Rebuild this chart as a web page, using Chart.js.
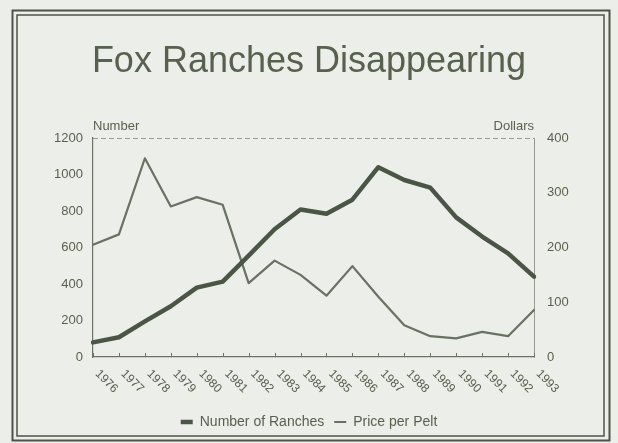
<!DOCTYPE html>
<html>
<head>
<meta charset="utf-8">
<script src="https://cdn.jsdelivr.net/npm/chart.js@4"></script>
<style>
  html, body { margin: 0; padding: 0; background: #eceee9; }
  #c { display: block; }
</style>
</head>
<body>
<canvas id="c" width="618" height="443"></canvas>
<script>
// ---- Data ----
const years = ['1976','1977','1978','1979','1980','1981','1982','1983','1984','1985','1986','1987','1988','1989','1990','1991','1992','1993'];
const ranches = [80, 108, 195, 278, 380, 413, 555, 700, 808, 785, 862, 1040, 970, 928, 765, 660, 568, 440];
const pricePerPelt = [205, 224, 363, 275, 292, 278, 135, 176, 150, 112, 166, 110, 58, 38, 34, 46, 38, 86];
const seriesNames = ['Number of Ranches', 'Price per Pelt'];
const titleText = 'Fox Ranches Disappearing';
const leftAxisTitle = 'Number';
const rightAxisTitle = 'Dollars';

// ---- Styles ----
const FONT = '"Liberation Sans", Arial, Helvetica, sans-serif';
const TEXT = '#58614f';
const LINE_DARK = '#4b5546';
const LINE_LIGHT = '#687163';
const AXIS = '#6a7265';
const AXIS_LIGHT = '#959b90';
const FRAME = '#4d5348';
const BG = '#eceee9';

const decor = {
  id: 'decor',
  beforeDraw(chart) {
    const ctx = chart.ctx;
    ctx.save();
    ctx.fillStyle = BG;
    ctx.fillRect(0, 0, chart.width, chart.height);
    ctx.strokeStyle = FRAME;
    ctx.lineWidth = 2;
    ctx.strokeRect(12.5, 10.5, 597, 430);
    ctx.lineWidth = 1.5;
    ctx.strokeRect(17, 15, 587, 421);
    ctx.restore();
  },
  afterDraw(chart) {
    const ctx = chart.ctx;
    const area = chart.chartArea;
    const xs = chart.scales.x;
    ctx.save();
    // top border of plot (light, dashed like the right axis)
    ctx.strokeStyle = AXIS_LIGHT;
    ctx.lineWidth = 1;
    ctx.setLineDash([5, 3]);
    ctx.beginPath();
    ctx.moveTo(area.left, area.top + 0.5);
    ctx.lineTo(area.right, area.top + 0.5);
    ctx.stroke();
    ctx.setLineDash([]);
    // inward tick marks on the x axis
    ctx.strokeStyle = AXIS;
    ctx.lineWidth = 1;
    years.forEach((y, i) => {
      const x = Math.round(xs.getPixelForValue(i)) + 0.5;
      ctx.beginPath();
      ctx.moveTo(x, area.bottom);
      ctx.lineTo(x, area.bottom - 4);
      ctx.stroke();
    });
    // rotated category labels (clockwise 45deg, starting at the tick)
    ctx.fillStyle = TEXT;
    ctx.font = '12px ' + FONT;
    ctx.textAlign = 'left';
    ctx.textBaseline = 'middle';
    years.forEach((y, i) => {
      const x = xs.getPixelForValue(i);
      ctx.save();
      ctx.translate(x + 4, area.bottom + 15);
      ctx.rotate(Math.PI / 4);
      ctx.fillText(y, 0, 0);
      ctx.restore();
    });
    // axis titles
    ctx.font = '13px ' + FONT;
    ctx.textBaseline = 'alphabetic';
    ctx.textAlign = 'left';
    ctx.fillText(leftAxisTitle, area.left, area.top - 8);
    ctx.textAlign = 'right';
    ctx.fillText(rightAxisTitle, area.right, area.top - 8);
    ctx.restore();
  }
};

new Chart(document.getElementById('c'), {
  type: 'line',
  data: {
    labels: years,
    datasets: [
      {
        label: seriesNames[0],
        data: ranches,
        yAxisID: 'y',
        borderColor: LINE_DARK,
        backgroundColor: LINE_DARK,
        borderWidth: 4.5,
        pointRadius: 0,
        tension: 0,
        borderJoinStyle: 'round',
        borderCapStyle: 'round'
      },
      {
        label: seriesNames[1],
        data: pricePerPelt,
        yAxisID: 'y1',
        borderColor: LINE_LIGHT,
        backgroundColor: LINE_LIGHT,
        borderWidth: 2.2,
        pointRadius: 0,
        tension: 0,
        borderJoinStyle: 'round',
        borderCapStyle: 'round'
      }
    ]
  },
  options: {
    responsive: false,
    animation: false,
    devicePixelRatio: 1,
    layout: { padding: { top: 20, left: 0, right: 0, bottom: 4 } },
    scales: {
      x: {
        type: 'category',
        offset: false,
        grid: { display: false, drawTicks: false },
        border: { display: true, color: AXIS, width: 1.2 },
        ticks: { display: false },
        afterFit(scale) { scale.height = 48; }
      },
      y: {
        position: 'left',
        min: 0,
        max: 1200,
        grid: { display: false, drawTicks: false },
        border: { display: true, color: AXIS, width: 1.2 },
        ticks: {
          stepSize: 200, padding: 10, color: TEXT,
          font: { family: FONT, size: 13 },
          callback: (v) => String(v)
        },
        afterFit(scale) { scale.width = 93; }
      },
      y1: {
        position: 'right',
        min: 0,
        max: 400,
        grid: { display: false, drawTicks: false },
        border: { display: true, color: AXIS_LIGHT, width: 1, dash: [5, 3] },
        ticks: {
          stepSize: 100, padding: 13, color: TEXT,
          font: { family: FONT, size: 13 },
          callback: (v) => String(v)
        },
        afterFit(scale) { scale.width = 84; }
      }
    },
    plugins: {
      title: {
        display: true,
        text: titleText,
        color: TEXT,
        font: { family: FONT, size: 36, weight: 'normal', lineHeight: 1.2 },
        padding: { top: 20, bottom: 54.8 }
      },
      legend: {
        display: true,
        position: 'bottom',
        labels: {
          color: TEXT,
          font: { family: FONT, size: 14 },
          usePointStyle: true,
          pointStyle: 'line',
          pointStyleWidth: 12,
          padding: 10,
          generateLabels(chart) {
            return chart.data.datasets.map((ds, i) => ({
              text: ds.label,
              fillStyle: ds.borderColor,
              strokeStyle: ds.borderColor,
              lineWidth: i === 0 ? 4.5 : 2,
              pointStyle: 'line',
              fontColor: TEXT,
              hidden: false,
              datasetIndex: i
            }));
          }
        }
      },
      tooltip: { enabled: false }
    }
  },
  plugins: [decor]
});
</script>
</body>
</html>
